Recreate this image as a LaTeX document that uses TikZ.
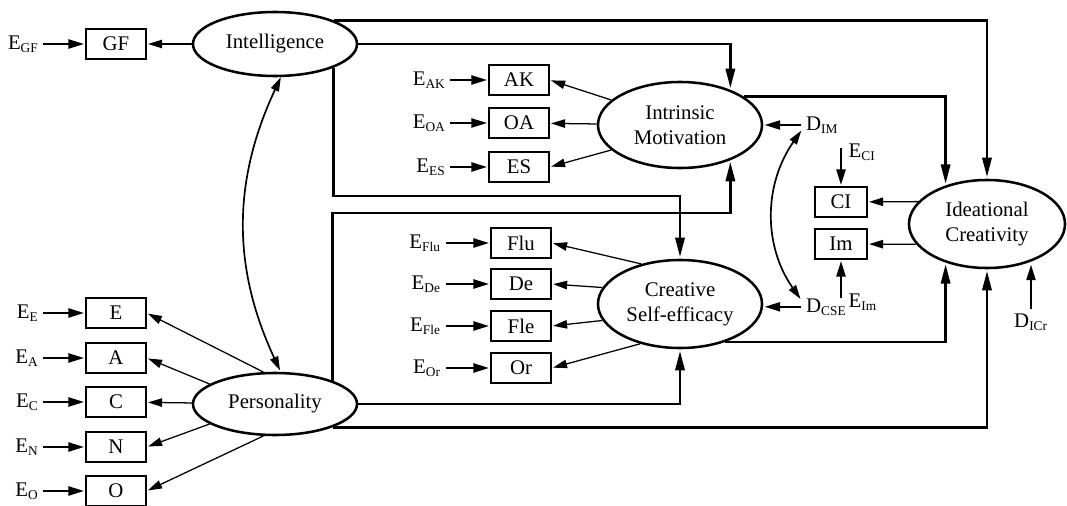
\documentclass[tikz,border=0pt]{standalone}
\usepackage{fontspec}
\setmainfont{Liberation Serif}
\usetikzlibrary{arrows.meta,shapes.geometric,positioning}
\newcommand{\sbs}[1]{\textsubscript{\fontsize{9.5pt}{10pt}\selectfont #1}}

\begin{document}
\begin{tikzpicture}[->,>={Triangle[length=10pt,width=6pt]},shorten >=1pt,
                    x=0.025cm,y=-0.025cm,line width=0.9pt,
                    font=\fontsize{14.8}{17.6}\selectfont]

  \tikzstyle{latent}=[ellipse,draw,line width=1.8pt,align=center,inner sep=2pt,
                      minimum width=4.1cm,minimum height=1.6cm]
  \tikzstyle{obs}=[rectangle,draw,line width=0.9pt,
                   minimum width=1.5cm,minimum height=0.75cm]
  \tikzstyle{err}=[inner sep=3pt]
  \tikzstyle{loading}=[line width=0.9pt]
  \tikzstyle{resid}=[line width=1.3pt,>={Triangle[length=11pt,width=6.5pt]}]
  \tikzstyle{reg}=[line width=2pt,>={Triangle[length=14pt,width=6.5pt]}]
  \tikzstyle{cov}=[<->,line width=1.2pt]

  \useasboundingbox (0,0) rectangle (1067,506);

  % latent variables
  \node[latent]                    (INT) at (275,44)  {Intelligence};
  \node[latent,minimum height=1.55cm] (PER) at (275,404) {Personality};
  \node[latent,minimum height=2.15cm] (IM)  at (680,125) {Intrinsic\\Motivation};
  \node[latent,minimum height=2.2cm]  (CSE) at (680,304) {Creative\\Self-efficacy};
  \node[latent,minimum width=3.9cm,minimum height=2.2cm] (IC) at (987,224) {Ideational\\Creativity};

  % indicators
  \node[obs] (GF)  at (116,44)  {GF};
  \node[obs] (E)   at (116,313) {E};
  \node[obs] (A)   at (116,358) {A};
  \node[obs] (C)   at (116,402) {C};
  \node[obs] (N)   at (116,447) {N};
  \node[obs] (O)   at (116,491) {O};
  \node[obs] (AK)  at (519,80)  {AK};
  \node[obs] (OA)  at (519,123) {OA};
  \node[obs] (ES)  at (519,167) {ES};
  \node[obs] (Flu) at (521,243) {Flu};
  \node[obs] (De)  at (521,284) {De};
  \node[obs] (Fle) at (521,326) {Fle};
  \node[obs] (Or)  at (521,368) {Or};
  \node[obs,minimum width=1.3cm] (CI) at (841,202) {CI};
  \node[obs,minimum width=1.3cm] (Im) at (841,244) {Im};

  % errors and disturbances
  \node[err,left=1.05cm of GF]  (eGF)  {E\sbs{GF}};
  \node[err,left=1.05cm of E]   (eE)   {E\sbs{E}};
  \node[err,left=1.05cm of A]   (eA)   {E\sbs{A}};
  \node[err,left=1.05cm of C]   (eC)   {E\sbs{C}};
  \node[err,left=1.05cm of N]   (eN)   {E\sbs{N}};
  \node[err,left=1.05cm of O]   (eO)   {E\sbs{O}};
  \node[err,left=0.95cm of AK]  (eAK)  {E\sbs{AK}};
  \node[err,left=0.95cm of OA]  (eOA)  {E\sbs{OA}};
  \node[err,left=0.95cm of ES]  (eES)  {E\sbs{ES}};
  \node[err,left=1.12cm of Flu] (eFlu) {E\sbs{Flu}};
  \node[err,left=1.12cm of De]  (eDe)  {E\sbs{De}};
  \node[err,left=1.12cm of Fle] (eFle) {E\sbs{Fle}};
  \node[err,left=1.12cm of Or]  (eOr)  {E\sbs{Or}};
  \node[err,right=0.95cm of IM]  (dIM)  {D\sbs{IM}};
  \node[err,right=0.95cm of CSE,yshift=-2pt] (dCSE) {D\sbs{CSE}};
  \node[err] (dICr) at (1031,322) {D\sbs{ICr}};
  \coordinate[above=0.95cm of CI] (cCI);
  \coordinate[below=0.95cm of Im] (cIm);
  \node[err,anchor=west] (eCI) at ([xshift=2pt,yshift=-3pt]cCI) {E\sbs{CI}};
  \node[err,anchor=west] (eIm) at ([xshift=2pt,yshift=-3pt]cIm) {E\sbs{Im}};

  \path[loading]
  (INT) edge (GF)
  (PER.110) edge (E.east)
  (PER.163) edge (A.east)
  (PER)     edge (C)
  (PER.197) edge (N.east)
  (PER.250) edge (O.east)
  (IM.160)  edge (AK.east)
  (IM)      edge (OA)
  (IM.200)  edge (ES.east)
  (CSE.134) edge (Flu.east)
  (CSE.168) edge (De.east)
  (CSE.192) edge (Fle.east)
  (CSE.225) edge (Or.east)
  (IC.162)  edge (CI)
  (IC.196)  edge (Im)
  ;

  \path[resid]
  (eGF) edge (GF)
  (eE) edge (E)   (eA) edge (A)   (eC) edge (C)
  (eN) edge (N)   (eO) edge (O)
  (eAK) edge (AK) (eOA) edge (OA) (eES) edge (ES)
  (eFlu) edge (Flu) (eDe) edge (De) (eFle) edge (Fle) (eOr) edge (Or)
  (dIM) edge (IM) (dCSE.west) edge (dCSE.west -| CSE.east)
  (cCI) edge (CI) (cIm) edge (Im)
  (dICr) edge (dICr |- IC.-45)
  ;

  % structural paths
  \draw[reg] (INT.22) -- (INT.22 -| IC) -- (IC);
  \draw[reg] (INT) -- (INT -| IM.35) -- (IM.35);
  \draw[reg] (INT.-22) |- (CSE |- 0,196) -- (CSE);
  \draw[reg] (PER.22) |- (IM.-35 |- 0,213) -- (IM.-35);
  \draw[reg] (PER) -| (CSE);
  \draw[reg] (PER.-22) -| (IC);
  \draw[reg] (IM.24) -| (IC.137);
  \draw[reg] (CSE.-40) -| (IC.-137);

  % correlations
  \draw[cov] (INT.-80) to[bend right=25] (PER.80);
  \draw[cov] (dIM.195) to[bend right=35] (dCSE.165);
\end{tikzpicture}
\end{document}
